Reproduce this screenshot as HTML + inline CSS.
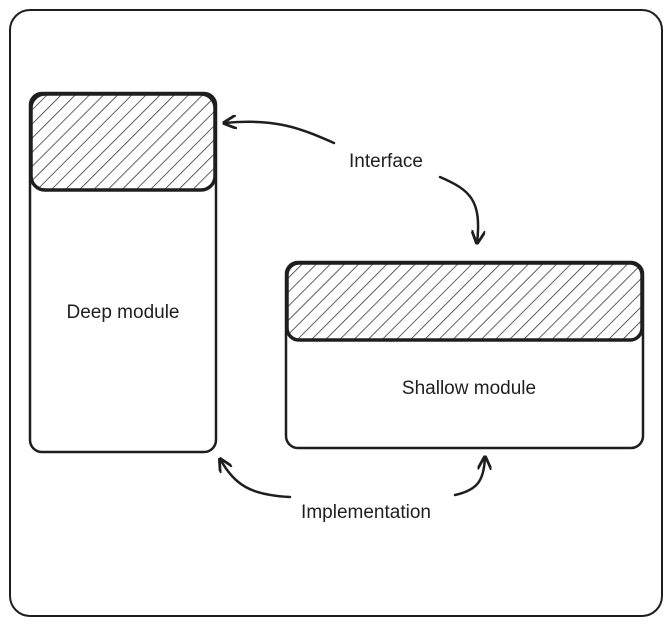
<!DOCTYPE html>
<html><head><meta charset="utf-8"><style>
html,body{margin:0;padding:0;background:#fff}
svg{display:block}
text{font-family:"Liberation Sans",sans-serif;font-size:19px;fill:#1e1e1e}
</style></head><body>
<svg width="671" height="626" viewBox="0 0 671 626" xmlns="http://www.w3.org/2000/svg">
<defs>
<pattern id="h" patternUnits="userSpaceOnUse" width="10" height="10" patternTransform="rotate(45)">
<line x1="0" y1="0" x2="0" y2="10" stroke="#1e1e1e" stroke-width="1.4"/>
</pattern>
<marker id="a" viewBox="0 0 10 10" refX="9" refY="5" markerWidth="14" markerHeight="14" orient="auto-start-reverse" markerUnits="userSpaceOnUse">
<path d="M0,0 L10,5 L0,10" fill="none" stroke="#1e1e1e" stroke-width="2"/>
</marker>
</defs>
<rect x="10" y="10" width="652" height="606" rx="20" fill="none" stroke="#1e1e1e" stroke-width="2"/>
<rect x="30" y="93" width="186" height="359" rx="12" fill="none" stroke="#1e1e1e" stroke-width="2.5"/>
<rect x="31" y="94" width="184" height="96" rx="14" fill="url(#h)" stroke="#1e1e1e" stroke-width="3.5"/>
<rect x="286" y="262" width="357" height="186" rx="12" fill="none" stroke="#1e1e1e" stroke-width="2.5"/>
<rect x="287" y="263" width="355" height="77" rx="12" fill="url(#h)" stroke="#1e1e1e" stroke-width="3.5"/>
<text x="123" y="318" text-anchor="middle">Deep module</text>
<text x="469" y="394" text-anchor="middle">Shallow module</text>
<text x="386" y="167" text-anchor="middle">Interface</text>
<text x="366" y="518" text-anchor="middle">Implementation</text>
<g fill="none" stroke="#1e1e1e" stroke-width="2.5" stroke-linecap="round">
<path d="M334,143 C300,128 275,118 224,123" marker-end="url(#a)"/>
<path d="M440,177 C470,190 482,200 477,243" marker-end="url(#a)"/>
<path d="M290,497 C250,495 235,485 220,459" marker-end="url(#a)"/>
<path d="M455,495 C478,490 484,480 485,457" marker-end="url(#a)"/>
</g>
</svg>
</body></html>
